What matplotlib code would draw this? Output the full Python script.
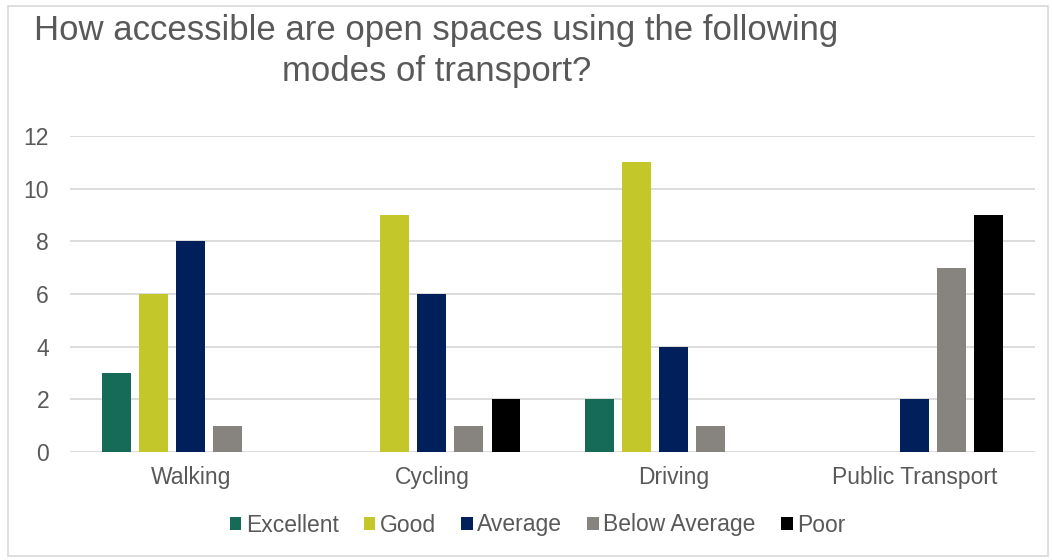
import numpy as np
import matplotlib.pyplot as plt
from matplotlib.patches import Rectangle

plt.rcParams['font.family'] = ['Liberation Sans', 'DejaVu Sans']

modes = ["Walking", "Cycling", "Driving", "Public Transport"]
ratings = ["Excellent", "Good", "Average", "Below Average", "Poor"]
excellent = [3, 0, 2, 0]
good = [6, 9, 11, 0]
average = [8, 6, 4, 2]
below_average = [1, 1, 1, 7]
poor = [0, 2, 0, 9]
colours = ["#156b58", "#c4c72a", "#001f5b", "#87837f", "#000000"]

series = [excellent, good, average, below_average, poor]
text_col = "#595959"

fig = plt.figure(figsize=(10.52, 5.6), dpi=100)
ax = fig.add_axes([0.0665, 0.193, 0.9175, 0.564])

x = np.arange(len(modes))
step = 0.1535
width = 0.12
for i, (vals, name, col) in enumerate(zip(series, ratings, colours)):
    ax.bar(x + (i - 2) * step, vals, width, color=col, label=name, zorder=3)

ax.set_xlim(-0.5, len(modes) - 0.5)
ax.set_ylim(0, 12)
ax.set_yticks(range(0, 13, 2))
ax.set_xticks(x)
ax.set_xticklabels(modes)
ax.grid(axis='y', color='#d9d9d9', linewidth=1.3, zorder=0)
ax.tick_params(axis='both', length=0, labelsize=16.5, colors=text_col)
ax.tick_params(axis='x', pad=10)
ax.tick_params(axis='y', pad=15)
for s in ax.spines.values():
    s.set_visible(False)

fig.text(0.415, 0.909, "How accessible are open spaces using the following\nmodes of transport?",
         ha='center', va='center', fontsize=25, color=text_col, linespacing=1.3)

fig.legend(loc='center', bbox_to_anchor=(0.511, 0.0625), ncol=5, frameon=False,
           fontsize=16.5, labelcolor=text_col, handlelength=0.5, handleheight=0.5,
           handletextpad=0.2, columnspacing=1.1)

# outer chart frame
fig.patches.append(Rectangle((0.008, 0.008), 0.988, 0.982, transform=fig.transFigure,
                             fill=False, edgecolor='#d9d9d9', linewidth=1.2))

fig.savefig("out.png", dpi=100)
